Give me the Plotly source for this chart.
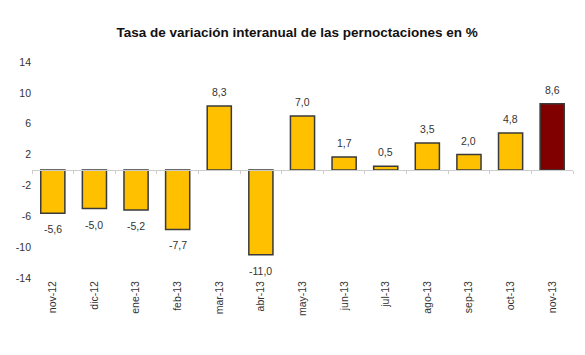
import plotly.graph_objects as go

categories = ["nov-12", "dic-12", "ene-13", "feb-13", "mar-13", "abr-13", "may-13",
              "jun-13", "jul-13", "ago-13", "sep-13", "oct-13", "nov-13"]
values = [-5.6, -5.0, -5.2, -7.7, 8.3, -11.0, 7.0, 1.7, 0.5, 3.5, 2.0, 4.8, 8.6]
y_ticks = [14, 10, 6, 2, -2, -6, -10, -14]
title = "Tasa de variación interanual de las pernoctaciones en %"

YELLOW = "#FFC000"
DARKRED = "#800000"
colors = [YELLOW] * (len(values) - 1) + [DARKRED]
labels = [f"{v:.1f}".replace(".", ",") for v in values]

FONT = "Liberation Sans, Arial, sans-serif"

fig = go.Figure()
fig.add_trace(go.Bar(
    x=categories, y=values,
    marker=dict(color=colors, line=dict(color="#3a3a3a", width=1.5)),
    width=0.58,
    cliponaxis=False,
    hoverinfo="x+y",
))
# invisible trace on the secondary x axis (zero line with boundary ticks)
fig.add_trace(go.Scatter(x=categories, y=[0] * len(categories), xaxis="x2",
                         mode="none", showlegend=False, hoverinfo="skip"))

for c, v, t in zip(categories, values, labels):
    fig.add_annotation(x=c, y=v, text=t, showarrow=False,
                       yshift=14 if v >= 0 else -16,
                       font=dict(family=FONT, size=10.5, color="#333333"))

fig.update_layout(
    width=585, height=355,
    margin=dict(l=32, r=12, t=62, b=77, autoexpand=False),
    paper_bgcolor="white", plot_bgcolor="white",
    showlegend=False,
    title=dict(text=f"<b>{title}</b>", x=0.508, xanchor="center",
               y=1 - 32 / 355, yanchor="middle",
               font=dict(family=FONT, size=13.5, color="#111111")),
    font=dict(family=FONT, size=10.5, color="#333333"),
    xaxis=dict(type="category", tickangle=-90, showgrid=False, zeroline=False,
               showline=False, ticks="", automargin=False,
               tickfont=dict(size=10.5, color="#333333")),
    xaxis2=dict(type="category", overlaying="x", matches="x", anchor="free",
                position=0.5, showline=True, linecolor="#cccccc", linewidth=1,
                ticks="outside", tickson="boundaries", ticklen=3, tickcolor="#cccccc",
                showticklabels=False, showgrid=False, zeroline=False, side="bottom",
                automargin=False),
    yaxis=dict(range=[-14, 14], tickvals=y_ticks, ticktext=[str(v) for v in y_ticks],
               showgrid=False, zeroline=False, showline=False, ticks="",
               automargin=False, tickfont=dict(size=10.5, color="#333333")),
)

fig.write_html("out.html", config={"displayModeBar": False},
               post_script="document.body.style.margin='0';")
